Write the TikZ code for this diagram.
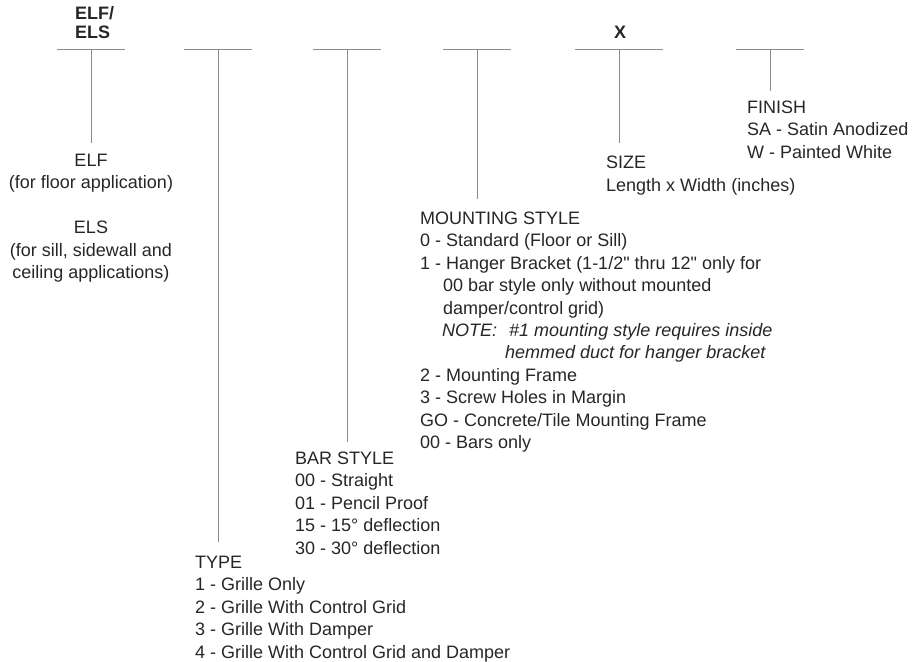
\documentclass[tikz,border=0pt]{standalone}
\usepackage{fontspec}
\setmainfont{Liberation Sans}
\newfontfamily\plainSans{Liberation Sans}
\usetikzlibrary{calc}
\definecolor{codeText}{HTML}{262626}
\definecolor{codeRule}{HTML}{8A8A8A}
\newcommand{\inchMark}{{\plainSans"}}
% one blank of the model code: short bar with a stem hanging from its middle
\newcommand{\drawCodeSlot}[4]{
  \coordinate (#1Top) at (#2,49);
  \coordinate (#1End) at (#2,#4);
  \draw[slotRule] ($(#1Top)+(-#3,0)$) -- ($(#1Top)+(#3,0)$);
  \draw[slotRule] (#1Top) -- (#1End);
}

\begin{document}
\begin{tikzpicture}[x=1pt, y=-1pt,
  slotRule/.style={draw=codeRule, line width=0.9pt},
  codeList/.style={anchor=base west, align=left, inner sep=0pt, text=codeText,
    font=\fontsize{18}{22.4}\selectfont},
  codeHead/.style={inner sep=0pt, text=codeText, font=\bfseries\fontsize{18}{19}\selectfont}]
  \useasboundingbox (0,0) rectangle (912,661);

  \drawCodeSlot{series}{91}{34}{143}
  \drawCodeSlot{type}{218}{34}{542}
  \drawCodeSlot{bar}{347}{34}{442}
  \drawCodeSlot{mount}{477}{34}{199}
  \drawCodeSlot{size}{619}{44}{143}
  \drawCodeSlot{finish}{770}{34}{91}

  % labels sit on the baseline of their last line
  \node[codeHead, anchor=base west, align=left] (seriesHead) at (75,39) {ELF/\\ELS};
  \node[codeHead, anchor=base] (sizeHead) at (620,39) {X};

  \node[codeList, anchor=base, align=center] (seriesText) at (91,278.5)
    {ELF\\(for floor application)\\[22.4pt]ELS\\(for sill, sidewall and\\ceiling applications)};
  \node[codeList] (typeText) at (195,658)
    {TYPE\\1 - Grille Only\\2 - Grille With Control Grid\\3 - Grille With Damper\\4 - Grille With Control Grid and Damper};
  \node[codeList] (barText) at (295,554)
    {BAR STYLE\\00 - Straight\\01 - Pencil Proof\\15 - 15° deflection\\30 - 30° deflection};
  \node[codeList] (mountText) at (420,448.5)
    {MOUNTING STYLE\\
     0 - Standard (Floor or Sill)\\
     1 - Hanger Bracket (1-1/2\inchMark{} thru 12\inchMark{} only for\\
     \hspace*{23pt}00 bar style only without mounted\\
     \hspace*{23pt}damper/control grid)\\
     \hspace*{22pt}\textit{NOTE:\hspace{12pt}\#1 mounting style requires inside}\\
     \hspace*{85pt}\textit{hemmed duct for hanger bracket}\\
     2 - Mounting Frame\\
     3 - Screw Holes in Margin\\
     GO - Concrete/Tile Mounting Frame\\
     00 - Bars only};
  \node[codeList] (sizeText) at (606,191)
    {SIZE\\Length x Width (inches)};
  \node[codeList] (finishText) at (747,158)
    {FINISH\\SA - Satin Anodized\\W - Painted White};
\end{tikzpicture}
\end{document}
